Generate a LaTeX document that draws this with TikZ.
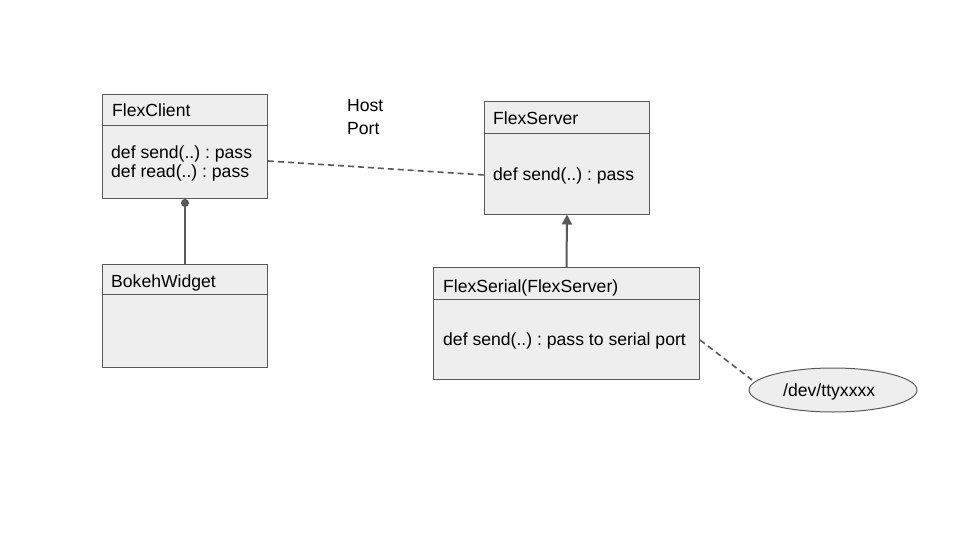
\documentclass[tikz,border=0pt]{standalone}
\usepackage{fontspec}
\setmainfont{Liberation Sans}
\usetikzlibrary{shapes.geometric,arrows.meta}
\definecolor{boxfill}{HTML}{EEEEEE}
\definecolor{edge}{HTML}{595959}
\frenchspacing
\tikzset{
  umlbox/.style={draw=edge, fill=boxfill, line width=1pt, rectangle, inner sep=0pt, anchor=north west},
  divider/.style={draw=edge, line width=1pt},
  lbl/.style={anchor=base west, inner sep=0pt, font=\fontsize{17.6}{20}\selectfont, text=black},
  conn/.style={draw=edge, line width=2pt},
  dashconn/.style={draw=edge, line width=1.6pt, dash pattern=on 6pt off 4pt}
}
\begin{document}
\begin{tikzpicture}[x=1pt,y=-1pt]
\useasboundingbox (0,0) rectangle (960,540);
% FlexClient
\node[umlbox, minimum width=165pt, minimum height=104pt] (client) at (102,94) {};
\draw[divider] (102,126) -- (267,126);
\node[lbl] (clientT) at (112,117) {FlexClient};
\node[lbl] (clientA) at (111,159) {def send(..) : pass};
\node[lbl] (clientB) at (111,178) {def read(..) : pass};
% BokehWidget
\node[umlbox, minimum width=165pt, minimum height=103pt] (bokeh) at (102,264) {};
\draw[divider] (102,294) -- (267,294);
\node[lbl] (bokehT) at (111,287) {BokehWidget};
% FlexServer
\node[umlbox, minimum width=165pt, minimum height=112pt] (server) at (484,101.5) {};
\draw[divider] (484,133.5) -- (649,133.5);
\node[lbl] (serverT) at (493,124.5) {FlexServer};
\node[lbl] (serverA) at (493,181) {def send(..) : pass};
% FlexSerial
\node[umlbox, minimum width=266pt, minimum height=112pt] (serial) at (433,267) {};
\draw[divider] (433,299) -- (699,299);
\node[lbl] (serialT) at (443,292) {FlexSerial(FlexServer)};
\node[lbl] (serialA) at (443,345) {def send(..) : pass to serial port};
% tty ellipse
\node[ellipse, draw=edge, fill=boxfill, line width=1pt, minimum width=168pt, minimum height=44pt, inner sep=0pt] (tty) at (833,390) {};
\node[lbl] (ttyT) at (783,396) {/dev/ttyxxxx};
% Host Port
\node[lbl] (host) at (347,112) {Host};
\node[lbl] (port) at (347,135) {Port};
% connectors
\draw[dashconn] (client.east |- 0,161) -- (server.west |- 0,175);
\draw[conn, -{Triangle[length=10pt,width=10pt]}] (serial.north) -- (server.south);
\draw[conn, {Circle[length=8pt,width=8pt]}-] (client.south) -- (bokeh.north);
\draw[dashconn, shorten >=3pt] (serial.east |- 0,340) -- (tty.174);
\end{tikzpicture}
\end{document}
